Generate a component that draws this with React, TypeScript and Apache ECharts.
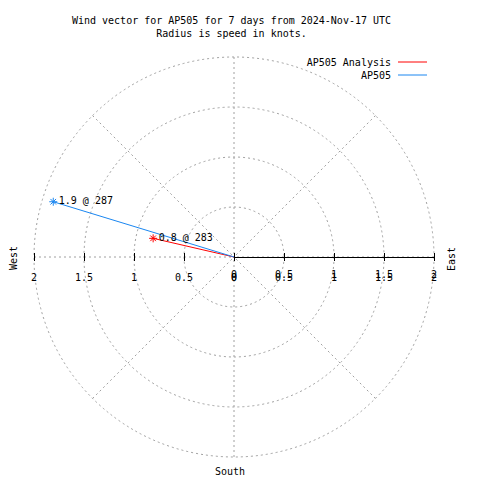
import React, { useEffect, useRef } from 'react';
import * as echarts from 'echarts';

const TITLE_LINES = [
  'Wind vector for AP505 for 7 days from 2024-Nov-17 UTC',
  'Radius is speed in knots.',
];
const SERIES_NAMES = ['AP505 Analysis', 'AP505'];
const SPEEDS = [0.83, 1.89];
const DIRECTIONS = [283, 287];
const SERIES_COLORS = ['#ff0000', '#1a86f0'];
const RADIUS_MAX = 2;
const RADIUS_STEP = 0.5;
const ANGLE_STEP = 45;
const COMPASS = ['West', 'East', 'South'];

const FONT = 'DejaVu Sans Mono';
const GRID_COLOR = '#a0a0a0';
const CX = 234;
const CY = 257;
const R = 200;
const STAR = 'path://M0,4L8,4M4,0L4,8M1.2,1.2L6.8,6.8M6.8,1.2L1.2,6.8';

export default function App() {
  const ref = useRef<HTMLDivElement>(null);

  useEffect(() => {
    document.body.style.margin = '0';
    const chart = echarts.init(ref.current as HTMLDivElement, null, { renderer: 'svg' });
    const dashed = { color: GRID_COLOR, width: 1, type: [2, 3] as number[] };
    const txt = { fontFamily: FONT, fontSize: 10, color: '#000' };

    const hAxis = (gridIndex: number, inverse: boolean, line: boolean, tickInside: boolean, labelMargin: number | null) => ({
      type: 'value',
      gridIndex,
      min: 0,
      max: RADIUS_MAX,
      interval: RADIUS_STEP,
      inverse,
      position: 'bottom',
      z: 5,
      splitLine: { show: false },
      axisLine: { show: line, onZero: false, lineStyle: { color: '#000', width: 1 } },
      axisTick: { show: true, inside: tickInside, length: 4, lineStyle: { color: '#000', width: 1 } },
      axisLabel: {
        show: labelMargin !== null,
        margin: labelMargin ?? 0,
        showMinLabel: true,
        showMaxLabel: true,
        ...txt,
        formatter: (v: number) => String(v),
      },
    });

    const series = SERIES_NAMES.map((name, i) => ({
      name,
      type: 'line',
      coordinateSystem: 'polar',
      polarIndex: 0,
      z: 10,
      symbolSize: 8,
      lineStyle: { color: SERIES_COLORS[i], width: 1 },
      itemStyle: { color: SERIES_COLORS[i], borderColor: SERIES_COLORS[i], borderWidth: 1 },
      data: [
        { value: [0, DIRECTIONS[i]], symbol: 'none', label: { show: false } },
        {
          value: [SPEEDS[i], DIRECTIONS[i]],
          symbol: STAR,
          label: {
            show: true,
            position: 'right',
            distance: 1,
            offset: [0, -1],
            ...txt,
            formatter: () => `${SPEEDS[i].toFixed(1)} @ ${DIRECTIONS[i]}`,
          },
        },
      ],
    }));

    const graphic: any[] = [
      ...TITLE_LINES.map((t, i) => ({
        type: 'text',
        x: 231.5,
        y: 20 + i * 13,
        style: { text: t, align: 'center', verticalAlign: 'middle', font: `10px "${FONT}"`, fill: '#000' },
      })),
      ...SERIES_NAMES.flatMap((n, i) => [
        {
          type: 'text',
          x: 391,
          y: 62 + i * 13,
          style: { text: n, align: 'right', verticalAlign: 'middle', font: `10px "${FONT}"`, fill: '#000' },
        },
        {
          type: 'line',
          shape: { x1: 398, y1: 62 + i * 13, x2: 427, y2: 62 + i * 13 },
          style: { stroke: SERIES_COLORS[i], lineWidth: 1 },
        },
      ]),
      {
        type: 'text', x: 13, y: 258, rotation: Math.PI / 2,
        style: { text: COMPASS[0], align: 'center', verticalAlign: 'middle', font: `10px "${FONT}"`, fill: '#000' },
      },
      {
        type: 'text', x: 451, y: 259, rotation: Math.PI / 2,
        style: { text: COMPASS[1], align: 'center', verticalAlign: 'middle', font: `10px "${FONT}"`, fill: '#000' },
      },
      {
        type: 'text', x: 230, y: 471,
        style: { text: COMPASS[2], align: 'center', verticalAlign: 'middle', font: `10px "${FONT}"`, fill: '#000' },
      },
    ];

    chart.setOption({
      animation: false,
      backgroundColor: '#fff',
      polar: { center: [CX, CY], radius: R },
      angleAxis: {
        type: 'value',
        min: 0,
        max: 360,
        interval: ANGLE_STEP,
        startAngle: 90,
        clockwise: true,
        axisLine: { show: false },
        axisTick: { show: false },
        axisLabel: { show: false },
        splitLine: { show: true, lineStyle: dashed },
      },
      radiusAxis: {
        type: 'value',
        min: 0,
        max: RADIUS_MAX,
        interval: RADIUS_STEP,
        axisLine: { show: false },
        axisTick: { show: false },
        axisLabel: { show: false },
        splitLine: { show: true, lineStyle: dashed },
      },
      grid: [
        { left: CX - R, top: CY - R, width: R, height: R },
        { left: CX, top: CY - R, width: R, height: R },
      ],
      xAxis: [
        hAxis(0, true, false, false, 15),
        hAxis(0, true, false, true, null),
        hAxis(1, false, true, false, 15),
        hAxis(1, false, false, true, 12),
      ],
      yAxis: [
        { type: 'value', gridIndex: 0, min: 0, max: 1, show: false },
        { type: 'value', gridIndex: 1, min: 0, max: 1, show: false },
      ],
      series,
      graphic,
    });

    return () => chart.dispose();
  }, []);

  return <div ref={ref} style={{ width: 480, height: 480 }} />;
}
